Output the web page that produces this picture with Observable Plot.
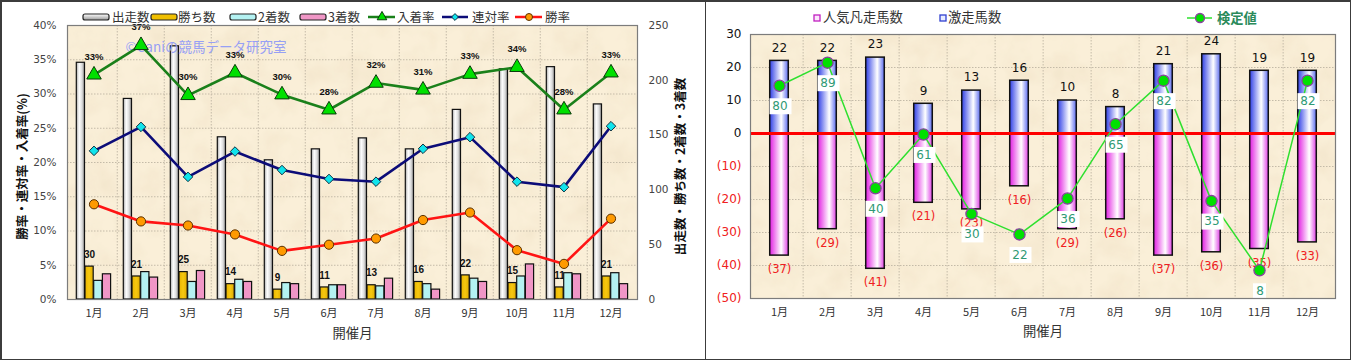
<!DOCTYPE html>
<html><head><meta charset="utf-8">
<script src="https://cdn.jsdelivr.net/npm/d3@7"></script>
<script src="https://cdn.jsdelivr.net/npm/@observablehq/plot@0.6"></script>
<style>
html,body{margin:0;padding:0;background:#fff;}
#wrap{position:relative;width:1351px;height:360px;overflow:hidden;background:#fff;}
#pl{position:absolute;left:0;top:0;}
#pr{position:absolute;left:705px;top:0;}
#legend{position:absolute;left:0;top:0;pointer-events:none;}
.bd{position:absolute;background:#3c3c3c;}
</style></head><body>
<div id="wrap">
<div id="pl"></div><div id="pr"></div>
<svg id="legend" width="1351" height="34"></svg>
<div class="bd" style="left:0;top:0;width:1351px;height:1.5px"></div>
<div class="bd" style="left:0;top:358.5px;width:1351px;height:1.5px"></div>
<div class="bd" style="left:0;top:0;width:1.5px;height:360px"></div>
<div class="bd" style="left:1349.5px;top:0;width:1.5px;height:360px"></div>
<div class="bd" style="left:704.5px;top:0;width:1.5px;height:360px"></div>
</div>
<script>
// ---------- data ----------
const months = ["1月","2月","3月","4月","5月","6月","7月","8月","9月","10月","11月","12月"];
// left chart
const starters = [216,183,231,148,127,137,147,137,173,210,212,178];   // 出走数
const wins     = [30,21,25,14,9,11,13,16,22,15,11,21];                // 勝ち数
const seconds  = [17,25,16,18,15,13,12,14,19,21,24,24];               // 2着数
const thirds   = [23,20,26,16,14,13,19,9,16,32,23,14];                // 3着数
const placeRate  = [32.8,37.1,29.8,33.1,29.9,27.7,31.6,30.6,32.9,33.9,27.7,33.1]; // 入着率
const rentaiRate = [21.7,25.2,17.9,21.6,18.9,17.6,17.2,22.0,23.7,17.2,16.4,25.3]; // 連対率
const winRate    = [13.9,11.4,10.8,9.5,7.1,8.0,8.9,11.6,12.7,7.2,5.2,11.8];       // 勝率
const pctTicks   = [0,5,10,15,20,25,30,35,40];
const countTicks = [0,50,100,150,200,250];
// right chart
const gekisou = [22,22,23,9,13,16,10,8,21,24,19,19];      // 激走馬数
const bonsou  = [37,29,41,21,23,16,29,26,37,36,35,33];    // 人気凡走馬数
const kentei  = [80,89,40,61,30,22,36,65,82,35,8,82];     // 検定値
const rTicks  = [-50,-40,-30,-20,-10,0,10,20,30];
const kenteiAxis = [-3,100]; // hidden secondary axis of 検定値

const FN = "DejaVu Sans, Noto Sans CJK JP, sans-serif";
const FJ = "Noto Sans CJK JP, sans-serif";
const FB = "Liberation Sans, Arial, sans-serif";

const defs = `
<linearGradient id="gStart" x1="0" x2="1" y1="0" y2="0">
 <stop offset="0" stop-color="#a8a8a8"/><stop offset="0.35" stop-color="#ffffff"/><stop offset="0.7" stop-color="#dcdcdc"/><stop offset="1" stop-color="#8a8a8a"/></linearGradient>
<linearGradient id="gWin" x1="0" x2="1" y1="0" y2="0">
 <stop offset="0" stop-color="#e8b400"/><stop offset="0.5" stop-color="#f6c810"/><stop offset="1" stop-color="#e0ac00"/></linearGradient>
<linearGradient id="gBlue" x1="0" x2="1" y1="0" y2="0">
 <stop offset="0" stop-color="#2f3fe6"/><stop offset="0.62" stop-color="#ffffff"/><stop offset="1" stop-color="#5a6af0"/></linearGradient>
<linearGradient id="gPink" x1="0" x2="1" y1="0" y2="0">
 <stop offset="0" stop-color="#e21ee2"/><stop offset="0.62" stop-color="#ffffff"/><stop offset="1" stop-color="#e040e6"/></linearGradient>
<filter id="noise" x="0" y="0" width="100%" height="100%">
 <feTurbulence type="fractalNoise" baseFrequency="0.035" numOctaves="3" seed="7"/>
 <feColorMatrix type="matrix" values="0 0 0 0 0.75  0 0 0 0 0.62  0 0 0 0 0.42  0 0 0 1.4 -0.55"/></filter>
<pattern id="tex" patternUnits="userSpaceOnUse" width="700" height="320">
 <rect width="700" height="320" fill="#faefd8"/><rect width="700" height="320" filter="url(#noise)" opacity="0.35"/></pattern>`;

const gridStyle = {stroke:"#c4bba8", strokeWidth:1, strokeDasharray:"1.5,1.5"};

// ---------- left chart ----------
const rowsL = months.map((m,i)=>({m, starters:starters[i], wins:wins[i], seconds:seconds[i], thirds:thirds[i],
  place:placeRate[i], rentai:rentaiRate[i], win:winRate[i]}));
const K = pctTicks[pctTicks.length-1] / countTicks[countTicks.length-1];
const LW = 705, LML = 67, LMR = 68;
const bwL = (LW-LML-LMR)/months.length;
const b0 = 6.3, bW = 8.7;
const inset = j => ({insetLeft: b0 + bW*j, insetRight: bwL - b0 - bW*(j+1)});
const barStyle = {stroke:"#111", strokeWidth:1.2};

const left = Plot.plot({
  width: LW, height: 360, marginLeft: LML, marginRight: LMR, marginTop: 25, marginBottom: 61,
  x: {type:"band", domain: months, padding: 0},
  y: {domain: [0, 40]},
  style: {fontFamily: FN, background: "transparent", overflow: "visible"},
  marks: [
    Plot.frame({fill: "url(#tex)"}),
    Plot.ruleY(pctTicks.slice(1,-1), gridStyle),
    Plot.ruleX(months.slice(1), {...gridStyle, dx: -bwL/2}),
    Plot.text(rowsL, {x:"m", y: d => d.wins*K, text: "wins", dx: b0 + bW*1.5 - bwL/2, dy: -12, fontWeight:"bold", fontSize: 10, fontFamily: FB, fill:"#111"}),
    Plot.barY(rowsL, {x:"m", y: d => d.starters*K, fill:"url(#gStart)", ...barStyle, ...inset(0)}),
    Plot.barY(rowsL, {x:"m", y: d => d.wins*K, fill:"url(#gWin)", ...barStyle, ...inset(1)}),
    Plot.barY(rowsL, {x:"m", y: d => d.seconds*K, fill:"#b4f2f2", ...barStyle, ...inset(2)}),
    Plot.barY(rowsL, {x:"m", y: d => d.thirds*K, fill:"#f096c6", ...barStyle, ...inset(3)}),
    Plot.text(["©Caniの競馬データ研究室"], {frameAnchor:"top-left", dx: 58, dy: 17, fill:"#97a0f4", fontSize: 13.5, fontFamily: FJ, textAnchor:"start"}),
    Plot.line(rowsL, {x:"m", y:"place", stroke:"#1a801a", strokeWidth: 2.6}),
    Plot.line(rowsL, {x:"m", y:"rentai", stroke:"#0c0c78", strokeWidth: 2.6}),
    Plot.line(rowsL, {x:"m", y:"win", stroke:"#ff1414", strokeWidth: 2.6}),
    Plot.dot(rowsL, {x:"m", y:"place", symbol:"triangle", r: 5.4, fill:"#00e000", stroke:"#0a3a0a", strokeWidth: 1}),
    Plot.dot(rowsL, {x:"m", y:"rentai", symbol:"diamond2", r: 4.3, fill:"#10e4ec", stroke:"#103040", strokeWidth: 1}),
    Plot.dot(rowsL, {x:"m", y:"win", r: 4.6, fill:"#ff9a00", stroke:"#5a3000", strokeWidth: 1}),
    Plot.text(rowsL, {x:"m", y:"place", text: d => Math.round(d.place) + "%", dy: -18, fontWeight:"bold", fontSize: 9.5, fontFamily: FB, fill:"#111"}),
    Plot.frame({stroke:"#7c7c7c", strokeWidth: 1.2}),
    Plot.axisY({ticks: pctTicks, tickFormat: d => d + "%", tickSize: 0, tickPadding: 11, fontSize: 10.5, color:"#444", label: null}),
    Plot.axisY({anchor:"right", ticks: countTicks.map(v => v*K), tickFormat: d => Math.round(d/K), tickSize: 0, tickPadding: 11, fontSize: 10.5, color:"#444", label: null}),
    Plot.axisX({tickSize: 0, tickPadding: 10, fontSize: 11, fontFamily: FJ, color:"#333", label: null}),
    Plot.text(["勝率・連対率・入着率(%)"], {frameAnchor:"left", dx: -45, dy: 4, rotate: -90, textAnchor:"middle", fontSize: 12.5, fontWeight:"bold", fontFamily: FJ, fill:"#111"}),
    Plot.text(["出走数・勝ち数・2着数・3着数"], {frameAnchor:"right", dx: 43, dy: 4, rotate: -90, textAnchor:"middle", fontSize: 12.5, fontWeight:"bold", fontFamily: FJ, fill:"#111"}),
    Plot.text(["開催月"], {frameAnchor:"bottom", dy: 38, fontSize: 13.3, fontFamily: FJ, fill:"#333"})
  ]
});
d3.select(left).insert("defs", ":first-child").html(defs);
document.getElementById("pl").appendChild(left);

// ---------- right chart ----------
const rowsR = months.map((m,i)=>({m, geki:gekisou[i], bon:bonsou[i], kentei:kentei[i]}));
const RW = 646, RML = 45, RMR = 16;
const bwR = (RW-RML-RMR)/months.length;
const rb = (bwR - 19.3)/2;
const ks = d3.scaleLinear().domain(kenteiAxis).range([rTicks[0], rTicks[rTicks.length-1]]);
const box = (w,h) => ({draw(ctx){ ctx.rect(-w/2, -h/2, w, h); }});

const right = Plot.plot({
  width: RW, height: 360, marginLeft: RML, marginRight: RMR, marginTop: 34, marginBottom: 62,
  x: {type:"band", domain: months, padding: 0},
  y: {domain: [rTicks[0], rTicks[rTicks.length-1]]},
  style: {fontFamily: FN, background: "transparent", overflow: "visible"},
  marks: [
    Plot.frame({fill: "url(#tex)"}),
    Plot.ruleY(rTicks.slice(1,-1), gridStyle),
    Plot.ruleX(months.slice(1), {...gridStyle, dx: -bwR/2}),
    Plot.barY(rowsR, {x:"m", y1: 0, y2:"geki", fill:"url(#gBlue)", stroke:"#111", strokeWidth: 1.5, insetLeft: rb, insetRight: rb}),
    Plot.barY(rowsR, {x:"m", y1: 0, y2: d => -d.bon, fill:"url(#gPink)", stroke:"#111", strokeWidth: 1.5, insetLeft: rb, insetRight: rb}),
    Plot.text(rowsR, {x:"m", y:"geki", text:"geki", dy: -13, fontSize: 12, fill:"#111"}),
    Plot.text(rowsR, {x:"m", y: d => -d.bon, text: d => `(${d.bon})`, dy: 14, fontSize: 11.5, fill:"#f02020"}),
    Plot.ruleY([0], {stroke:"#ff0000", strokeWidth: 3}),
    Plot.line(rowsR, {x:"m", y: d => ks(d.kentei), stroke:"#2ee02e", strokeWidth: 1.5}),
    Plot.dot(rowsR, {x:"m", y: d => ks(d.kentei), r: 5.6, fill:"#00e000", stroke:"#8a40a0", strokeWidth: 1.3}),
    Plot.dot(rowsR.filter(d => d.kentei >= 10), {x:"m", y: d => ks(d.kentei), symbol: box(22,16), fill:"#fff", dy: 20.5, dx: 1}),
    Plot.dot(rowsR.filter(d => d.kentei < 10), {x:"m", y: d => ks(d.kentei), symbol: box(13,15), fill:"#fff", dy: 20.5}),
    Plot.text(rowsR, {x:"m", y: d => ks(d.kentei), text:"kentei", dy: 20.5, dx: 0.5, fontSize: 12, fill:"#2f9a74"}),
    Plot.frame({stroke:"#7c7c7c", strokeWidth: 1.2}),
    Plot.axisY({ticks: rTicks.filter(d => d >= 0), tickFormat: d => d, tickSize: 0, tickPadding: 9, fontSize: 12, color:"#111", label: null}),
    Plot.axisY({ticks: rTicks.filter(d => d < 0), tickFormat: d => `(${-d})`, tickSize: 0, tickPadding: 9, fontSize: 12, color:"#f02020", label: null}),
    Plot.axisX({tickSize: 0, tickPadding: 10, fontSize: 11, fontFamily: FJ, color:"#333", label: null}),
    Plot.text(["開催月"], {frameAnchor:"bottom", dy: 37, fontSize: 13.3, fontFamily: FJ, fill:"#333"})
  ]
});
document.getElementById("pr").appendChild(right);

// ---------- legends ----------
const lg = d3.select("#legend");
lg.append("defs").html(`
<linearGradient id="lgStart" x1="0" x2="0" y1="0" y2="1"><stop offset="0" stop-color="#ffffff"/><stop offset="1" stop-color="#9a9a9a"/></linearGradient>`);
const lt = (x, s, fill="#333", size=12.5, weight="normal") => lg.append("text").attr("x", x).attr("y", 17).attr("dy","0.36em")
  .attr("font-family", FJ).attr("font-size", size).attr("font-weight", weight).attr("fill", fill).text(s);
const sw = (x, fill) => lg.append("rect").attr("x", x).attr("y", 14).attr("width", 26).attr("height", 6).attr("rx", 2)
  .attr("fill", fill).attr("stroke", "#222").attr("stroke-width", 1.2);
sw(83, "url(#lgStart)"); lt(112, "出走数");
sw(151, "#f0bf00"); lt(178, "勝ち数");
sw(230, "#b4f2f2"); lt(258, "2着数");
sw(300, "#f096c6"); lt(328, "3着数");
const ln = (x1, x2, color) => lg.append("line").attr("x1", x1).attr("x2", x2).attr("y1", 17).attr("y2", 17).attr("stroke", color).attr("stroke-width", 2.5);
ln(368, 395, "#1a801a");
lg.append("path").attr("d", d3.symbol(d3.symbolTriangle, 40)()).attr("transform","translate(382,17)").attr("fill","#00e000").attr("stroke","#0a3a0a");
lt(397, "入着率");
ln(442, 468, "#0c0c78");
lg.append("path").attr("d", d3.symbol(d3.symbolDiamond2, 30)()).attr("transform","translate(455,17)").attr("fill","#10e4ec").attr("stroke","#103040");
lt(472, "連対率");
ln(515, 542, "#ff1414");
lg.append("circle").attr("cx", 529).attr("cy", 17).attr("r", 3.5).attr("fill","#ff9a00").attr("stroke","#5a3000");
lt(545, "勝率");
// right legend
lg.append("rect").attr("x", 814).attr("y", 15).attr("width", 6).attr("height", 6).attr("fill","#fbe6fb").attr("stroke","#c020c0").attr("stroke-width",1.3);
lt(823, "人気凡走馬数", "#333", 13.3);
lg.append("rect").attr("x", 940).attr("y", 15).attr("width", 6).attr("height", 6).attr("fill","#e8ecff").attr("stroke","#3040d0").attr("stroke-width",1.3);
lt(948, "激走馬数", "#333", 13.3);
lg.append("line").attr("x1", 1187).attr("x2", 1212).attr("y1", 18).attr("y2", 18).attr("stroke","#2ee02e").attr("stroke-width",1.5);
lg.append("circle").attr("cx", 1200).attr("cy", 18).attr("r", 4.5).attr("fill","#00e000").attr("stroke","#8a40a0").attr("stroke-width",1.3);
lt(1217, "検定値", "#2a8a5a", 13.3, "bold").attr("y", 18);
</script></body></html>
